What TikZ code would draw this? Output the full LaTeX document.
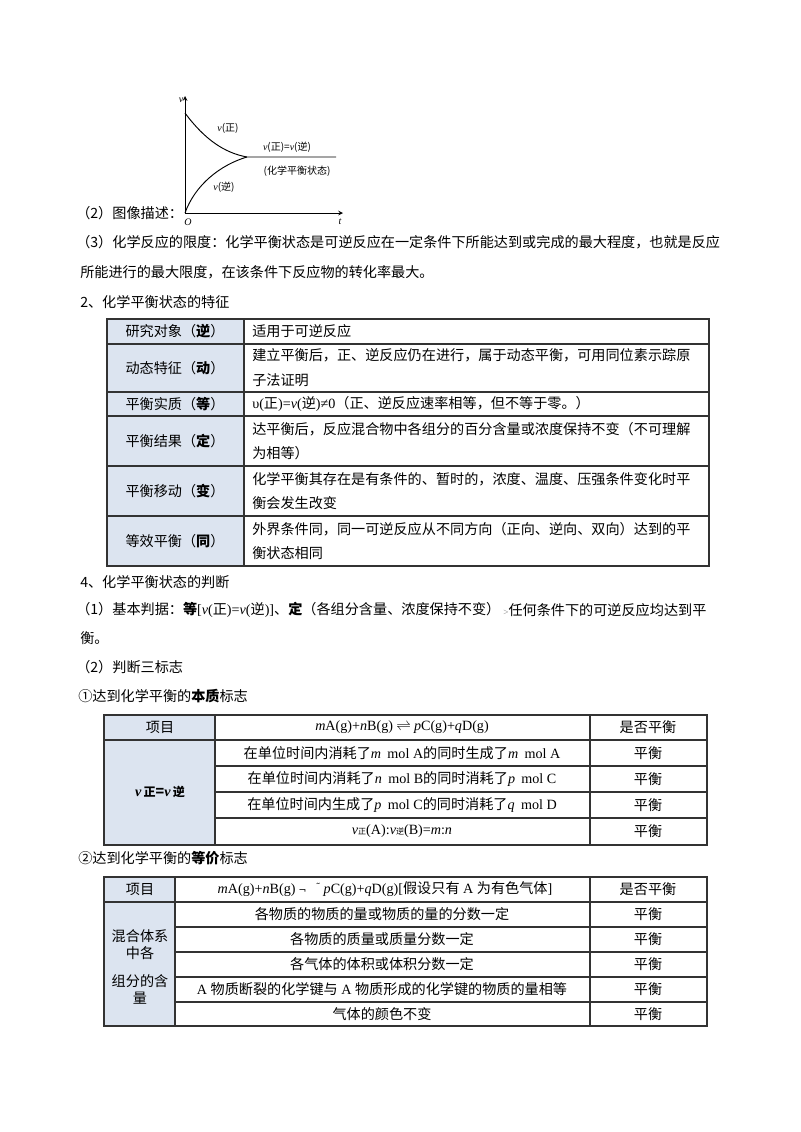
\documentclass[tikz,border=0pt]{standalone}
\usepackage{fontspec}
\setmainfont{Noto Sans CJK SC}
\newfontfamily\tm{Liberation Serif}
\newfontfamily\djv{DejaVu Sans}
\definecolor{cellblue}{HTML}{DCE4F0}
\newcommand{\iv}[1]{{\tm\itshape #1}}
\newcommand{\rmt}[1]{{\tm #1}}
\begin{document}
\begin{tikzpicture}[x=0.75pt,y=-0.75pt,
  txt/.style={anchor=west,inner sep=0pt,font=\fontsize{10.6}{12}\selectfont},
  ctr/.style={anchor=center,inner sep=0pt,font=\fontsize{10.6}{12}\selectfont},
  gl/.style={inner sep=0pt,font=\fontsize{7.5}{8}\selectfont},
  grid/.style={draw=black!80,line width=0.8pt},
  fillc/.style={fill=cellblue}]
\useasboundingbox (0,0) rectangle (800,1132);
% graph
\coordinate (O) at (185,213);
\coordinate (vt) at (185,96);
\coordinate (tt) at (343,213);
\coordinate (A) at (185,113);
\coordinate (M) at (247,157);
\coordinate (E) at (336,157);
\draw[line width=0.6pt,-stealth] (O) -- (vt);
\draw[line width=0.6pt,-stealth] (O) -- (tt);
\draw[line width=0.7pt] (A) .. controls (205,140) and (225,153) .. (M) -- (E);
\draw[line width=0.7pt] (O) .. controls (195,185) and (220,165) .. (M);
\node[gl] (lv) at (181,100) {\iv{v}};
\node[gl] (lO) at (188,222) {\iv{O}};
\node[gl] (lt) at (340,222) {\iv{t}};
\node[gl] (l1) at (228,128) {\iv{v}(正)};
\node[gl] (l2) at (287,147) {\iv{v}(正)=\iv{v}(逆)};
\node[gl] (l3) at (297,171) {(化学平衡状态)};
\node[gl] (l4) at (224,187) {\iv{v}(逆)};
% text
\node[txt] (t1) at (76,213) {（2）图像描述：};
\node[txt] (t2) at (76,242) {（3）化学反应的限度：化学平衡状态是可逆反应在一定条件下所能达到或完成的最大程度，也就是反应};
\node[txt] (t3) at (80,272) {所能进行的最大限度，在该条件下反应物的转化率最大。};
\node[txt] (t4) at (80,302) {2、化学平衡状态的特征};
% table 1
\fill[fillc] (107,319) rectangle (244,566);
\draw[grid] (107,319) rectangle (709,566);
\draw[grid] (244,319) -- (244,566);
\foreach \y in {344,392,416,466,516} \draw[grid] (107,\y) -- (709,\y);
\node[ctr] (a1) at (175,331) {研究对象（\textbf{逆}）};
\node[ctr] (a2) at (175,368) {动态特征（\textbf{动}）};
\node[ctr] (a3) at (175,404) {平衡实质（\textbf{等}）};
\node[ctr] (a4) at (175,441) {平衡结果（\textbf{定}）};
\node[ctr] (a5) at (175,491) {平衡移动（\textbf{变}）};
\node[ctr] (a6) at (175,541) {等效平衡（\textbf{同}）};
\node[txt] (b1) at (252,331) {适用于可逆反应};
\node[txt] (b2) at (252,355) {建立平衡后，正、逆反应仍在进行，属于动态平衡，可用同位素示踪原};
\node[txt] (b2b) at (252,380) {子法证明};
\node[txt] (b3) at (252,404) {\rmt{υ(}正\rmt{)=}\iv{v}\rmt{(}逆\rmt{)≠0}（正、逆反应速率相等，但不等于零。）};
\node[txt] (b4) at (252,429) {达平衡后，反应混合物中各组分的百分含量或浓度保持不变（不可理解};
\node[txt] (b4b) at (252,453) {为相等）};
\node[txt] (b5) at (252,479) {化学平衡其存在是有条件的、暂时的，浓度、温度、压强条件变化时平};
\node[txt] (b5b) at (252,503) {衡会发生改变};
\node[txt] (b6) at (252,529) {外界条件同，同一可逆反应从不同方向（正向、逆向、双向）达到的平};
\node[txt] (b6b) at (252,553) {衡状态相同};
% text
\node[txt] (t5) at (80,582) {4、化学平衡状态的判断};
\node[txt] (t6) at (76,610) {（1）基本判据：\textbf{等}\rmt{[}\iv{v}\rmt{(}正\rmt{)=}\iv{v}\rmt{(}逆\rmt{)]}、\textbf{定}（各组分含量、浓度保持不变）};
\node[txt] (t6b) at (503,610) {{\tm\fontsize{7}{8}\selectfont\color{black!50}>}任何条件下的可逆反应均达到平};
\node[txt] (t7) at (80,638) {衡。};
\node[txt] (t8) at (76,667) {（2）判断三标志};
\node[txt] (t9) at (78,696) {①达到化学平衡的\textbf{本质}标志};
% table 2
\fill[fillc] (104,715) rectangle (215,845);
\draw[grid] (104,715) rectangle (707,845);
\draw[grid] (215,715) -- (215,845);
\draw[grid] (590,715) -- (590,845);
\draw[grid] (104,740) -- (707,740);
\foreach \y in {766,792,818} \draw[grid] (215,\y) -- (707,\y);
\node[ctr] (c0) at (160,727) {项目};
\node[ctr] (c1) at (402,727) {\iv{m}\rmt{A(g)+}\iv{n}\rmt{B(g)} $\rightleftharpoons$ \iv{p}\rmt{C(g)+}\iv{q}\rmt{D(g)}};
\node[ctr] (c2) at (648,727) {是否平衡};
\node[ctr] (c3) at (160,792) {\textbf{\iv{v}\,{\fontsize{9}{9}\selectfont 正}=\iv{v}\,{\fontsize{9}{9}\selectfont 逆}}};
\node[ctr] (d1) at (402,753) {在单位时间内消耗了\iv{m}\ \ \rmt{mol A}的同时生成了\iv{m}\ \ \rmt{mol A}};
\node[ctr] (d2) at (402,779) {在单位时间内消耗了\iv{n}\ \ \rmt{mol B}的同时消耗了\iv{p}\ \ \rmt{mol C}};
\node[ctr] (d3) at (402,805) {在单位时间内生成了\iv{p}\ \ \rmt{mol C}的同时消耗了\iv{q}\ \ \rmt{mol D}};
\node[ctr] (d4) at (402,831) {\iv{v}{\fontsize{6}{6}\selectfont 正}\rmt{(A):}\iv{v}{\fontsize{6}{6}\selectfont 逆}\rmt{(B)=}\iv{m}\rmt{:}\iv{n}};
\foreach \y/\n in {753/e1,779/e2,805/e3,831/e4} \node[ctr] (\n) at (648,\y) {平衡};
% text
\node[txt] (t10) at (78,858) {②达到化学平衡的\textbf{等价}标志};
% table 3
\fill[fillc] (104,877) rectangle (175,1026);
\draw[grid] (104,877) rectangle (707,1026);
\draw[grid] (175,877) -- (175,1026);
\draw[grid] (590,877) -- (590,1026);
\draw[grid] (104,902) -- (707,902);
\foreach \y in {927,952,977,1002} \draw[grid] (175,\y) -- (707,\y);
\node[ctr] (f0) at (140,889) {项目};
\node[ctr] (f1) at (385,889) {\iv{m}\rmt{A(g)+}\iv{n}\rmt{B(g)} {\djv\fontsize{7}{7}\selectfont ¬\quad\raisebox{2pt}{˜}} \iv{p}\rmt{C(g)+}\iv{q}\rmt{D(g)[}假设只有\rmt{ A }为有色气体\rmt{]}};
\node[ctr] (f2) at (648,889) {是否平衡};
\node[ctr] (g1) at (140,936) {混合体系};
\node[ctr] (g2) at (140,953) {中各};
\node[ctr] (g3) at (140,981) {组分的含};
\node[ctr] (g4) at (140,998) {量};
\node[ctr] (h1) at (382,914) {各物质的物质的量或物质的量的分数一定};
\node[ctr] (h2) at (382,939) {各物质的质量或质量分数一定};
\node[ctr] (h3) at (382,964) {各气体的体积或体积分数一定};
\node[ctr] (h4) at (382,989) {\rmt{A }物质断裂的化学键与\rmt{ A }物质形成的化学键的物质的量相等};
\node[ctr] (h5) at (382,1014) {气体的颜色不变};
\foreach \y/\n in {914/k1,939/k2,964/k3,989/k4,1014/k5} \node[ctr] (\n) at (648,\y) {平衡};
\end{tikzpicture}
\end{document}
